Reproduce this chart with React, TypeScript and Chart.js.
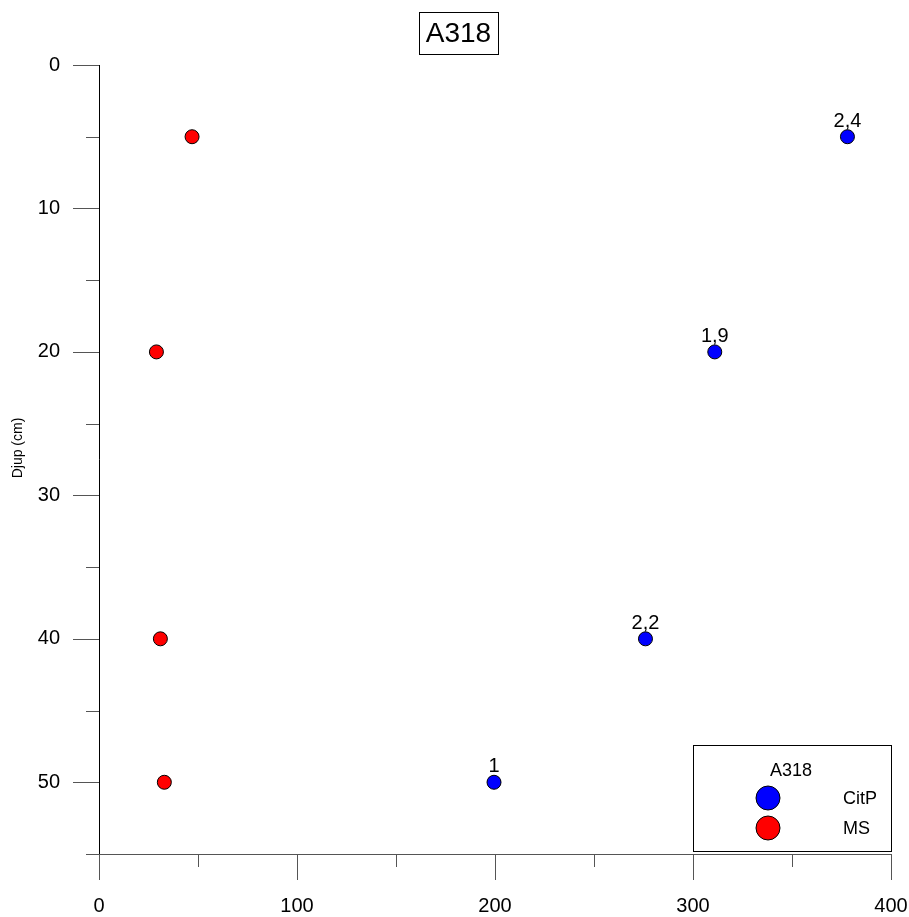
import React, { useEffect, useRef } from "react";
import { Chart, registerables } from "chart.js";

Chart.register(...registerables);

const chartTitle = "A318";
const depthAxisTitle = "Djup (cm)";

const citpLabel = "CitP";
const citpDepth = [5, 20, 40, 50];
const citpValues = [378, 311, 276, 199.5];
const citpPointLabels = ["2,4", "1,9", "2,2", "1"];

const msLabel = "MS";
const msDepth = [5, 20, 40, 50];
const msValues = [47, 29, 31, 33];

const xTicksMajor = 100;
const xTicksMinor = 50;
const yTicksMajor = 10;
const yTicksMinor = 5;

const FONT = "'Liberation Sans', Arial, sans-serif";

const toPoints = (xs: number[], ys: number[]) => xs.map((x, i) => ({ x, y: ys[i] }));

// Draws the axis lines, tick marks, title box, value labels and the boxed legend.
const decorations = {
  id: "decorations",
  afterDraw(chart: any) {
    const { ctx, chartArea } = chart;
    const xs = chart.scales.x;
    const ys = chart.scales.y;
    ctx.save();

    // axis lines
    ctx.lineWidth = 1;
    ctx.strokeStyle = "#000";
    ctx.beginPath();
    ctx.moveTo(Math.round(chartArea.left) + 0.5, chartArea.top);
    ctx.lineTo(Math.round(chartArea.left) + 0.5, chartArea.bottom + 0.5);
    ctx.stroke();
    ctx.strokeStyle = "#555";
    ctx.beginPath();
    ctx.moveTo(chartArea.left, Math.round(chartArea.bottom) + 0.5);
    ctx.lineTo(chartArea.right, Math.round(chartArea.bottom) + 0.5);
    ctx.stroke();

    // y ticks (outside, left)
    ctx.strokeStyle = "#555";
    for (let v = ys.min; v <= ys.max + 1e-9; v += yTicksMinor) {
      const len = v % yTicksMajor === 0 ? 26 : 13;
      const py = Math.round(ys.getPixelForValue(v)) + 0.5;
      ctx.beginPath();
      ctx.moveTo(chartArea.left - len, py);
      ctx.lineTo(chartArea.left, py);
      ctx.stroke();
    }
    // x ticks (outside, below)
    for (let v = xs.min; v <= xs.max + 1e-9; v += xTicksMinor) {
      const len = v % xTicksMajor === 0 ? 26 : 13;
      const px = Math.round(xs.getPixelForValue(v)) + 0.5;
      ctx.beginPath();
      ctx.moveTo(px, chartArea.bottom);
      ctx.lineTo(px, chartArea.bottom + len);
      ctx.stroke();
    }

    // y axis title
    ctx.save();
    ctx.translate(18, 448);
    ctx.rotate(-Math.PI / 2);
    ctx.fillStyle = "#000";
    ctx.font = `14px ${FONT}`;
    ctx.textAlign = "center";
    ctx.textBaseline = "middle";
    ctx.fillText(depthAxisTitle, 0, 0);
    ctx.restore();

    // chart title in a box
    ctx.font = `28px ${FONT}`;
    ctx.fillStyle = "#000";
    ctx.textAlign = "center";
    ctx.textBaseline = "middle";
    ctx.fillText(chartTitle, 458.5, 34);
    ctx.strokeStyle = "#000";
    ctx.strokeRect(419.5, 12.5, 79, 42);

    // value labels above CitP points
    const meta = chart.getDatasetMeta(0);
    ctx.font = `20px ${FONT}`;
    ctx.textBaseline = "alphabetic";
    meta.data.forEach((pt: any, i: number) => {
      ctx.fillText(citpPointLabels[i], pt.x, pt.y - 10);
    });

    // legend
    const lx = 693.5, ly = 745.5, lw = 198, lh = 106;
    ctx.fillStyle = "#fff";
    ctx.fillRect(lx, ly, lw, lh);
    ctx.strokeStyle = "#000";
    ctx.strokeRect(lx, ly, lw, lh);
    ctx.fillStyle = "#000";
    ctx.font = `18px ${FONT}`;
    ctx.textAlign = "center";
    ctx.textBaseline = "middle";
    ctx.fillText(chartTitle, 791, 771);
    chart.data.datasets.forEach((ds: any, i: number) => {
      const cy = 798 + i * 30;
      ctx.beginPath();
      ctx.arc(768, cy, 12, 0, Math.PI * 2);
      ctx.fillStyle = ds.backgroundColor;
      ctx.fill();
      ctx.strokeStyle = "#000";
      ctx.stroke();
      ctx.fillStyle = "#000";
      ctx.textAlign = "left";
      ctx.fillText(ds.label, 843, cy + 1);
    });

    ctx.restore();
  },
};

export default function App() {
  const canvasRef = useRef<HTMLCanvasElement | null>(null);

  useEffect(() => {
    if (!canvasRef.current) return;
    const chart = new Chart(canvasRef.current, {
      type: "scatter",
      data: {
        datasets: [
          {
            label: citpLabel,
            data: toPoints(citpValues, citpDepth),
            backgroundColor: "#0000ff",
            borderColor: "#000",
            borderWidth: 1,
            pointRadius: 7,
          },
          {
            label: msLabel,
            data: toPoints(msValues, msDepth),
            backgroundColor: "#ff0000",
            borderColor: "#000",
            borderWidth: 1,
            pointRadius: 7,
          },
        ],
      },
      options: {
        responsive: false,
        animation: false,
        layout: { padding: { top: 65, right: 18, left: 0, bottom: 0 } },
        plugins: {
          legend: { display: false },
          title: { display: false },
          tooltip: { enabled: false },
        },
        scales: {
          x: {
            type: "linear",
            min: 0,
            max: 400,
            grid: {
              display: true,
              drawOnChartArea: false,
              drawTicks: true,
              tickLength: 40,
              tickColor: "rgba(0,0,0,0)",
            },
            border: { display: false },
            afterFit: (s: any) => {
              s.height = 63;
              s.paddingLeft = 0;
              s.paddingRight = 0;
            },
            ticks: {
              stepSize: xTicksMinor,
              padding: 0,
              maxRotation: 0,
              color: "#000",
              font: { family: FONT, size: 20 },
              callback: (v: any) => (Number(v) % xTicksMajor === 0 ? String(v) : ""),
            },
          },
          y: {
            type: "linear",
            min: 0,
            max: 55,
            reverse: true,
            grid: {
              display: true,
              drawOnChartArea: false,
              drawTicks: true,
              tickLength: 39,
              tickColor: "rgba(0,0,0,0)",
            },
            border: { display: false },
            afterFit: (s: any) => {
              s.width = 99;
              s.paddingTop = 0;
              s.paddingBottom = 0;
            },
            ticks: {
              stepSize: yTicksMinor,
              padding: 0,
              color: "#000",
              font: { family: FONT, size: 20 },
              callback: (v: any) => (Number(v) % yTicksMajor === 0 ? String(v) : ""),
            },
          },
        },
      },
      plugins: [decorations],
    });
    return () => chart.destroy();
  }, []);

  return (
    <div style={{ position: "fixed", left: 0, top: 0, width: 909, height: 917, background: "#fff" }}>
      <canvas ref={canvasRef} width={909} height={917} style={{ display: "block" }} />
    </div>
  );
}
